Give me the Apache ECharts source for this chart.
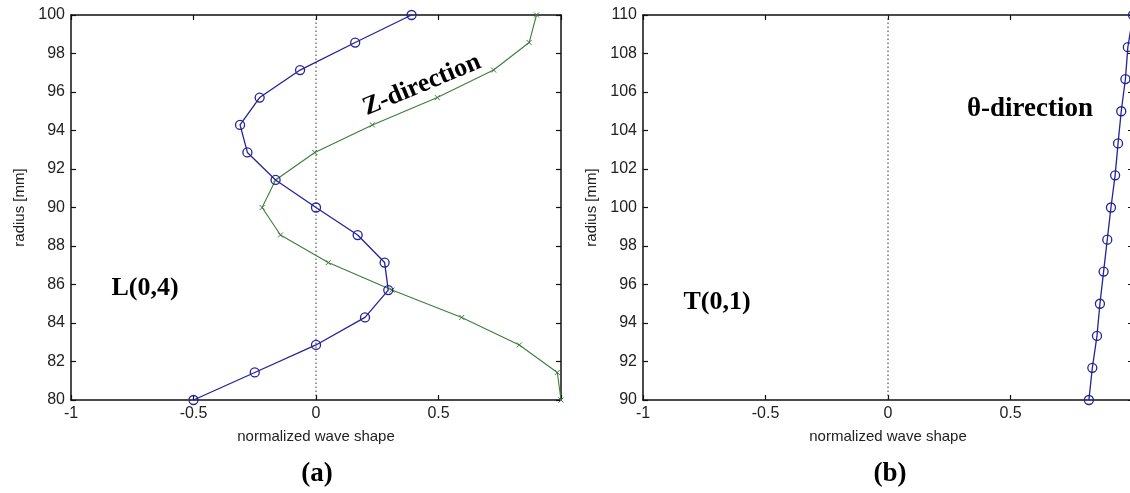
<!DOCTYPE html>
<html>
<head>
<meta charset="utf-8">
<script src="https://cdn.jsdelivr.net/npm/echarts@6/dist/echarts.min.js"></script>
<style>
html,body{margin:0;padding:0;background:#fff;}
#c{width:1130px;height:493px;}
</style>
</head>
<body>
<div id="c"></div>
<script>
// ---- data ----
// Panel (a): L(0,4)
const radiusL = [80, 81.43, 82.86, 84.29, 85.71, 87.14, 88.57, 90, 91.43, 92.86, 94.29, 95.71, 97.14, 98.57, 100];
const rShapeL = [-0.5, -0.25, 0.0, 0.2, 0.295, 0.28, 0.17, 0.0, -0.165, -0.28, -0.31, -0.23, -0.065, 0.16, 0.39];
const zShapeL = [1.0, 0.985, 0.83, 0.595, 0.31, 0.05, -0.145, -0.22, -0.165, -0.005, 0.23, 0.495, 0.725, 0.87, 0.90];
// Panel (b): T(0,1)
const radiusT = [90, 91.67, 93.33, 95, 96.67, 98.33, 100, 101.67, 103.33, 105, 106.67, 108.33, 110];
const thetaShapeT = [0.82, 0.834, 0.853, 0.865, 0.88, 0.895, 0.91, 0.927, 0.939, 0.952, 0.969, 0.979, 1.0];
// axes
const xTicksMin = -1, xTicksMax = 1, xTickStep = 0.5;
const yRangeL = [80, 100];
const yRangeT = [90, 110];
const yTickStep = 2;
const xLabel = 'normalized wave shape';
const yLabel = 'radius [mm]';

const BLUE = '#23239a';
const GREEN = '#3c7d3c';
const AX = '#111';
const sansFont = '"Liberation Sans", Arial, sans-serif';
const serifFont = '"Liberation Serif", "Times New Roman", serif';

function pairs(xs, ys) { return xs.map((x, i) => [x, ys[i]]); }

function xAx(grid, top) {
  return {
    type: 'value', gridIndex: grid, position: top ? 'top' : 'bottom',
    min: xTicksMin, max: xTicksMax, interval: xTickStep,
    name: top ? '' : xLabel, nameLocation: 'middle', nameGap: 29,
    nameTextStyle: { fontFamily: sansFont, fontSize: 15, color: '#222' },
    axisLine: { show: true, onZero: false, lineStyle: { color: AX, width: 1.5 } },
    axisTick: { show: true, inside: true, length: 5, lineStyle: { color: AX, width: 1.2 } },
    axisLabel: { show: !top, margin: 6, fontFamily: sansFont, fontSize: 16, color: '#222',
      formatter: v => (v === xTicksMax ? '' : String(v)) },
    splitLine: { show: false }
  };
}
function yAx(grid, right, range) {
  return {
    type: 'value', gridIndex: grid, position: right ? 'right' : 'left',
    min: range[0], max: range[1], interval: yTickStep,
    name: right ? '' : yLabel, nameLocation: 'middle', nameGap: 44,
    nameTextStyle: { fontFamily: sansFont, fontSize: 15, color: '#222' },
    axisLine: { show: true, onZero: false, lineStyle: { color: AX, width: 1.5 } },
    axisTick: { show: true, inside: true, length: 5, lineStyle: { color: AX, width: 1.2 } },
    axisLabel: { show: !right, margin: 6, fontFamily: sansFont, fontSize: 16, color: '#222' },
    splitLine: { show: false }
  };
}

const circleSeries = (xi, yi, data) => ({
  type: 'line', xAxisIndex: xi, yAxisIndex: yi, data: data,
  symbol: 'circle', symbolSize: 9, showAllSymbol: true, clip: false,
  lineStyle: { color: BLUE, width: 1.3 },
  itemStyle: { color: 'rgba(0,0,0,0)', borderColor: BLUE, borderWidth: 1.3 },
  z: 5
});
const crossSeries = (xi, yi, data) => ({
  type: 'line', xAxisIndex: xi, yAxisIndex: yi, data: data,
  symbol: 'path://M0,0L10,10M10,0L0,10', symbolSize: 5, showAllSymbol: true,
  lineStyle: { color: GREEN, width: 1.1 },
  itemStyle: { color: 'rgba(0,0,0,0)', borderColor: GREEN, borderWidth: 1 },
  z: 4
});
const zeroLine = (xi, yi, range) => ({
  type: 'line', xAxisIndex: xi, yAxisIndex: yi,
  data: [[0, range[0]], [0, range[1]]], symbol: 'none',
  lineStyle: { color: '#333', width: 1, type: [1.5, 2.5] }, z: 2
});

const option = {
  animation: false,
  backgroundColor: '#fff',
  grid: [
    { left: 71, top: 15, width: 490, height: 385, outerBoundsMode: 'none', containLabel: false },
    { left: 643, top: 15, width: 490, height: 385, outerBoundsMode: 'none', containLabel: false }
  ],
  xAxis: [xAx(0, false), xAx(0, true), xAx(1, false), xAx(1, true)],
  yAxis: [yAx(0, false, yRangeL), yAx(0, true, yRangeL), yAx(1, false, yRangeT), yAx(1, true, yRangeT)],
  series: [
    zeroLine(0, 0, yRangeL),
    crossSeries(0, 0, pairs(zShapeL, radiusL)),
    circleSeries(0, 0, pairs(rShapeL, radiusL)),
    zeroLine(2, 2, yRangeT),
    circleSeries(2, 2, pairs(thetaShapeT, radiusT))
  ],
  graphic: [
    { type: 'text', x: 145, y: 288, style: { text: 'L(0,4)', font: 'bold 26px ' + serifFont, fill: '#000', align: 'center', verticalAlign: 'middle' } },
    { type: 'text', x: 422, y: 85, rotation: 0.395,
      style: { text: 'Z-direction', font: 'bold 26px ' + serifFont, fill: '#000', align: 'center', verticalAlign: 'middle' } },
    { type: 'text', x: 717, y: 302, style: { text: 'T(0,1)', font: 'bold 26px ' + serifFont, fill: '#000', align: 'center', verticalAlign: 'middle' } },
    { type: 'text', x: 1030, y: 109, style: { text: 'θ-direction', font: 'bold 27px ' + serifFont, fill: '#000', align: 'center', verticalAlign: 'middle' } },
    { type: 'text', x: 317, y: 474, style: { text: '(a)', font: 'bold 27px ' + serifFont, fill: '#000', align: 'center', verticalAlign: 'middle' } },
    { type: 'text', x: 890, y: 474, style: { text: '(b)', font: 'bold 27px ' + serifFont, fill: '#000', align: 'center', verticalAlign: 'middle' } }
  ]
};

const chart = echarts.init(document.getElementById('c'), null, { renderer: 'canvas' });
chart.setOption(option);
</script>
</body>
</html>
